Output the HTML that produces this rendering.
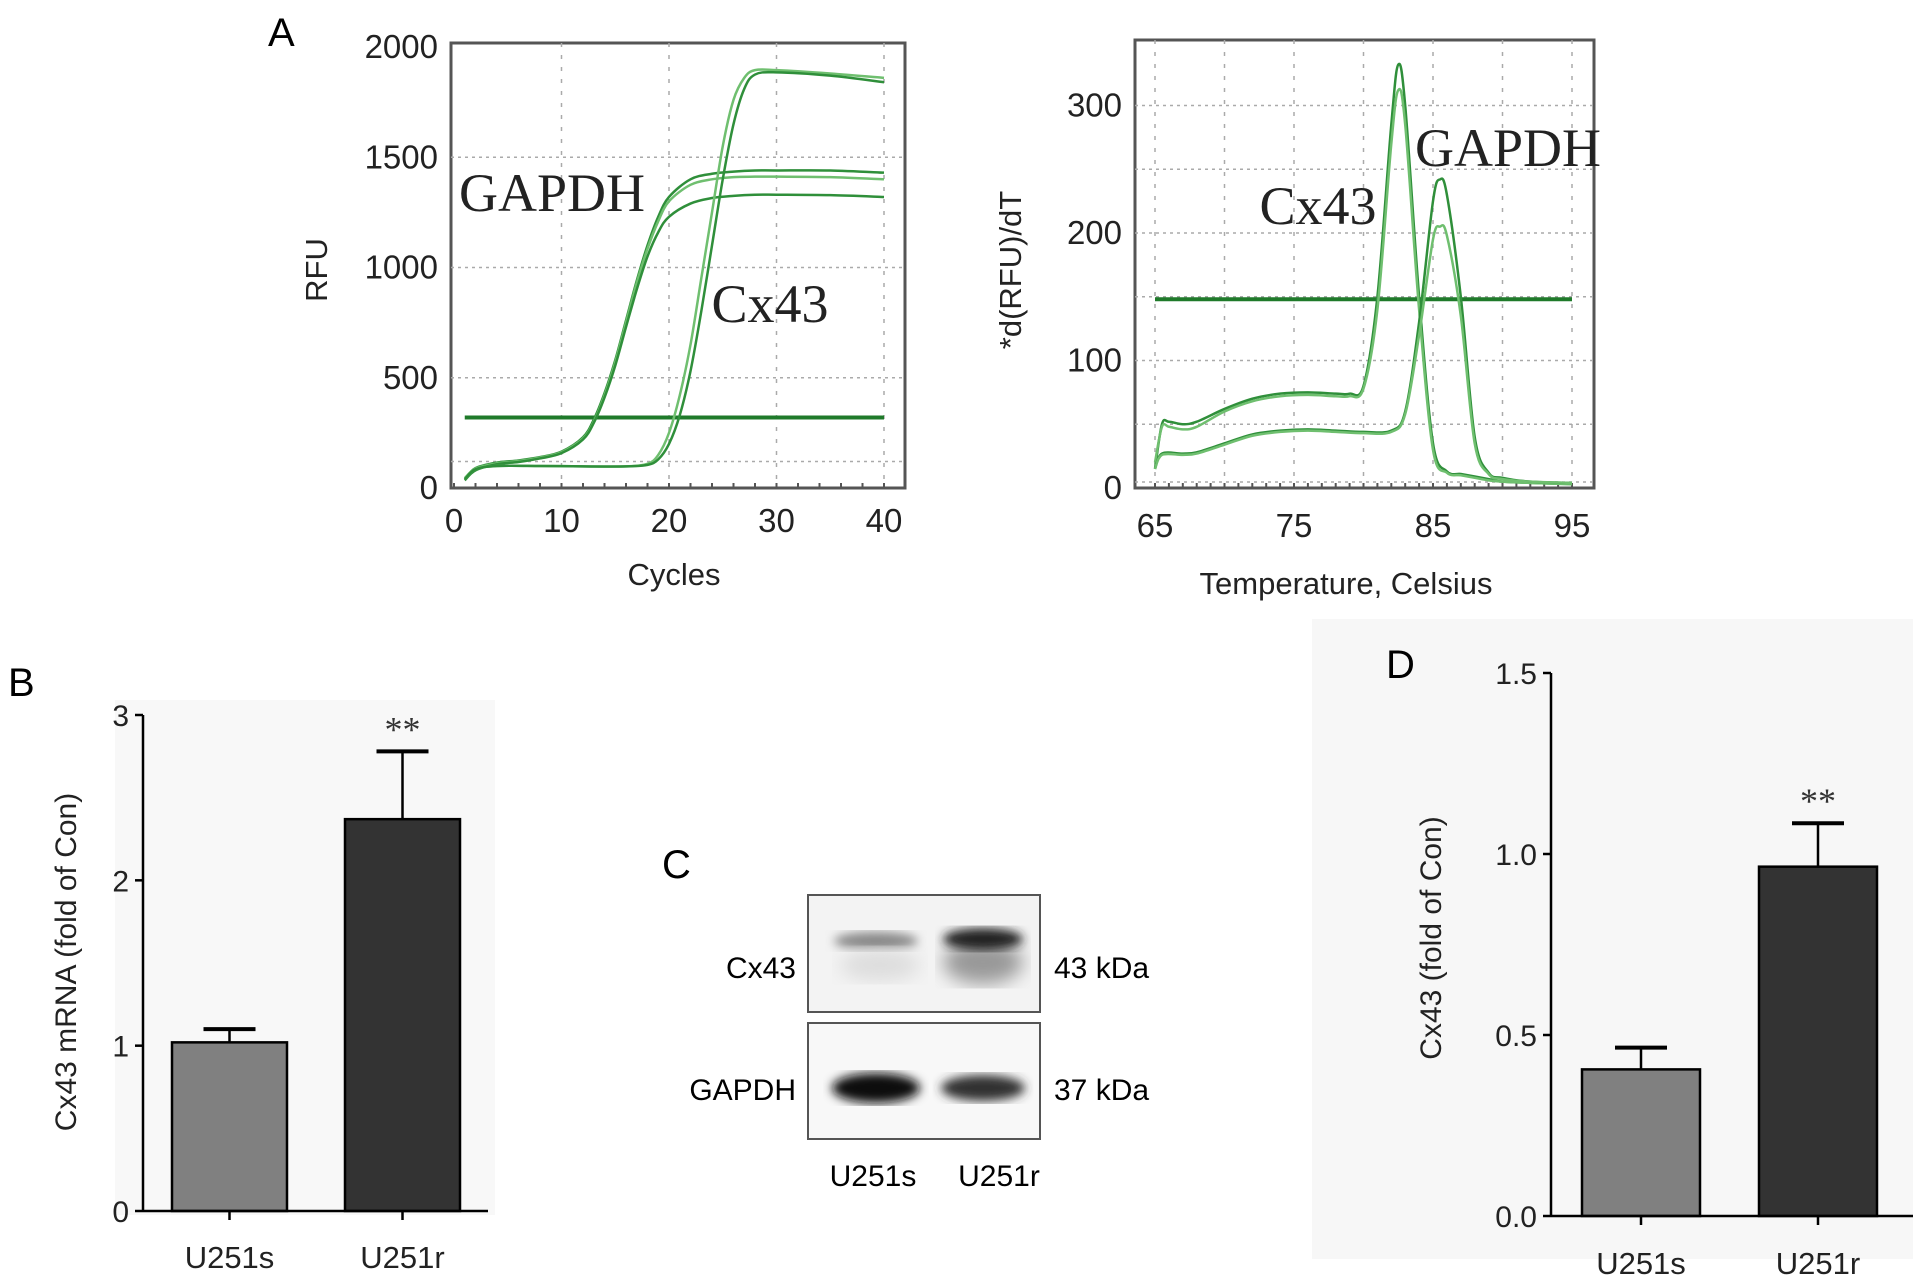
<!DOCTYPE html>
<html><head><meta charset="utf-8"><style>
html,body{margin:0;padding:0;background:#fff;}
svg{display:block;font-family:"Liberation Sans",sans-serif;}
</style></head><body>
<svg id="fig" width="1913" height="1283" viewBox="0 0 1913 1283" xmlns="http://www.w3.org/2000/svg">
<defs>
<filter id="blur4"><feGaussianBlur stdDeviation="5"/></filter>
<filter id="blur8"><feGaussianBlur stdDeviation="9"/></filter>
</defs>
<rect x="0" y="0" width="1913" height="1283" fill="#fff"/>
<rect x="115" y="700" width="380" height="515" fill="#f8f8f8"/>
<rect x="1312" y="619" width="601" height="640" fill="#f7f7f7"/>
<text x="268" y="46" font-size="40">A</text>
<text x="8" y="696" font-size="40">B</text>
<text x="662" y="878" font-size="40">C</text>
<text x="1386" y="678" font-size="40">D</text>
<g id="a1"></g>
<g id="a2"></g>
<g id="bchart"></g>
<g id="blot">
<rect x="808" y="895" width="232" height="117" fill="#f3f3f3" stroke="#555" stroke-width="2"/>
<rect x="808" y="1023" width="232" height="116" fill="#f8f8f8" stroke="#555" stroke-width="2"/>
<ellipse cx="876" cy="941" rx="42" ry="9" fill="#888" filter="url(#blur4)"/>
<ellipse cx="880" cy="965" rx="40" ry="16" fill="#ddd" filter="url(#blur8)"/>
<ellipse cx="983" cy="962" rx="40" ry="22" fill="#999" filter="url(#blur8)"/>
<ellipse cx="983" cy="939" rx="40" ry="11" fill="#222" filter="url(#blur4)"/>
<ellipse cx="876" cy="1088" rx="44" ry="15" fill="#111" filter="url(#blur4)"/>
<ellipse cx="983" cy="1088" rx="42" ry="13" fill="#333" filter="url(#blur4)"/>
<text x="796" y="978" font-size="30" text-anchor="end">Cx43</text>
<text x="796" y="1100" font-size="30" text-anchor="end">GAPDH</text>
<text x="1054" y="978" font-size="30">43 kDa</text>
<text x="1054" y="1100" font-size="30">37 kDa</text>
<text x="873" y="1186" font-size="30" text-anchor="middle">U251s</text>
<text x="999" y="1186" font-size="30" text-anchor="middle">U251r</text>
</g>
<g id="dchart"></g>
</svg>
<script>
// ---- Panel A1 data ----
const ampCyclesG = [1,2,4,6,8,10,12,13,14,15,16,17,18,19,20,22,24,26,28,30,35,40];
const ampG1 = [40,90,115,125,140,165,230,310,430,580,760,940,1100,1230,1320,1400,1425,1435,1440,1440,1440,1430];
const ampG2 = [45,88,112,122,138,162,225,300,420,570,750,930,1085,1210,1300,1375,1400,1410,1412,1412,1410,1400];
const ampG3 = [35,80,108,118,134,158,220,295,410,555,730,900,1050,1160,1230,1290,1315,1325,1330,1330,1328,1320];
const ampCyclesC = [1,2,4,8,12,16,18,19,20,21,22,23,24,25,26,27,28,30,35,40];
const ampC1 = [40,85,100,100,98,98,110,150,250,420,650,950,1250,1550,1760,1860,1895,1895,1880,1860];
const ampC2 = [40,85,100,100,98,98,105,130,200,330,530,800,1100,1400,1650,1810,1875,1885,1870,1840];
const ampThreshold = 320;
const ampXTicks = [0,10,20,30,40];
const ampYTicks = [0,500,1000,1500,2000];
// ---- Panel A2 data ----
const meltTempsC = [65,65.5,66,67,68,70,72,74,76,78,79,80,81,82,82.5,83,84,85,86,87,88,89,90,92,95];
const meltC1 = [15,50,52,50,52,62,70,74,75,74,74,80,150,285,332,300,150,35,13,11,9,7,5,4,3];
const meltC2 = [20,48,48,46,48,60,68,72,73,72,72,78,140,270,312,285,140,30,12,10,8,6,5,4,3];
const meltTempsG = [65,65.5,67,68,70,72,74,76,78,80,82,83,84,85,85.5,86,87,88,89,90,92,95];
const meltG1 = [15,27,27,28,35,42,45,46,45,44,45,60,130,225,242,230,150,40,12,8,5,4];
const meltG2 = [15,26,26,27,34,41,44,45,44,43,44,58,120,195,205,198,135,35,11,7,5,4];
const meltThreshold = 148;
const meltXTicks = [65,75,85,95];
const meltYTicks = [0,100,200,300];
// ---- Panel B data ----
const bCats = ["U251s","U251r"];
const bVals = [1.02,2.37];
const bErr = [0.08,0.41];
const bYTicks = [0,1,2,3];
// ---- Panel D data ----
const dCats = ["U251s","U251r"];
const dVals = [0.405,0.965];
const dErr = [0.06,0.12];
const dYTicks = ["0.0","0.5","1.0","1.5"];

const NS="http://www.w3.org/2000/svg";
function mk(parent,tag,attrs,text){const e=document.createElementNS(NS,tag);for(const k in attrs)e.setAttribute(k,attrs[k]);if(text!==undefined)e.textContent=text;parent.appendChild(e);return e;}
function smooth(pts){let d="M"+pts[0][0]+","+pts[0][1];for(let i=0;i<pts.length-1;i++){const p0=pts[Math.max(0,i-1)],p1=pts[i],p2=pts[i+1],p3=pts[Math.min(pts.length-1,i+2)];const c1x=p1[0]+(p2[0]-p0[0])/6,c1y=p1[1]+(p2[1]-p0[1])/6,c2x=p2[0]-(p3[0]-p1[0])/6,c2y=p2[1]-(p3[1]-p1[1])/6;d+=` C${c1x},${c1y} ${c2x},${c2y} ${p2[0]},${p2[1]}`;}return d;}

// ---- A1 ----
(function(){
const g=document.getElementById('a1');
const X=v=>454+(v/40)*430, Y=v=>488-(v/2000)*441;
const box=mk(g,'rect',{x:451,y:43,width:454,height:445,fill:'#fff',stroke:'#555','stroke-width':3});


[10,20,30,40].forEach(v=>{const l=mk(g,'line',{x1:X(v),x2:X(v),y1:43,y2:488,stroke:'#aaa','stroke-width':1.5,'stroke-dasharray':'4,8'});});
[120,500,1000,1500].forEach(v=>{const l=mk(g,'line',{x1:451,x2:905,y1:Y(v),y2:Y(v),stroke:'#aaa','stroke-width':1.5,'stroke-dasharray':'3,4'});});
for(let v=0;v<=40;v+=2){const l=mk(g,'line',{x1:X(v),x2:X(v),y1:483,y2:488,stroke:'#555','stroke-width':2});}
ampXTicks.forEach(v=>{const t=mk(g,'text',{x:X(v),y:532,'font-size':33,'text-anchor':'middle',fill:'#222'},v);});
ampYTicks.forEach(v=>{const t=mk(g,'text',{x:438,y:Y(v)+11,'font-size':33,'text-anchor':'end',fill:'#222'},v);});
const th=mk(g,'line',{x1:X(1),x2:X(40),y1:Y(ampThreshold),y2:Y(ampThreshold),stroke:'#1f7a2a','stroke-width':4});

[[ampCyclesG,ampG1],[ampCyclesG,ampG2],[ampCyclesG,ampG3],[ampCyclesC,ampC1],[ampCyclesC,ampC2]].forEach(([xs,ys],i)=>{
 const p=mk(g,'path',{d:smooth(xs.map((c,j)=>[X(c),Y(ys[j])])),fill:'none',stroke:i%2?'#6fbf6f':'#2f8f3a','stroke-width':2.5});
 });
const tl=mk(g,'text',{x:552,y:211,'font-size':54,'text-anchor':'middle','font-family':'Liberation Serif, serif',fill:'#222'},'GAPDH');
const tc=mk(g,'text',{x:770,y:322,'font-size':54,'text-anchor':'middle','font-family':'Liberation Serif, serif',fill:'#222'},'Cx43');
const xt=mk(g,'text',{x:674,y:585,'font-size':31,'text-anchor':'middle',fill:'#222'},'Cycles');
const yt=mk(g,'text',{x:0,y:0,'font-size':31,'text-anchor':'middle',fill:'#222',transform:'translate(327,270) rotate(-90)'},'RFU');
})();

// ---- A2 ----
(function(){
const g=document.getElementById('a2');
const X=v=>1155+((v-65)/30)*417, Y=v=>488-(v/100)*127.5;
const box=mk(g,'rect',{x:1135,y:40,width:459,height:448,fill:'#fff',stroke:'#555','stroke-width':3});

for(let v=65;v<=95;v+=5){const l=mk(g,'line',{x1:X(v),x2:X(v),y1:40,y2:488,stroke:'#aaa','stroke-width':1.5,'stroke-dasharray':'4,8'});}
for(let v=0;v<=300;v+=50){const l=mk(g,'line',{x1:1135,x2:1594,y1:Y(v)-(v===0?6:0),y2:Y(v)-(v===0?6:0),stroke:'#aaa','stroke-width':1.5,'stroke-dasharray':'3,4'});}
for(let v=65;v<=95;v+=1){const l=mk(g,'line',{x1:X(v),x2:X(v),y1:483,y2:488,stroke:'#555','stroke-width':2});}
meltXTicks.forEach(v=>{const t=mk(g,'text',{x:X(v),y:537,'font-size':33,'text-anchor':'middle',fill:'#222'},v);});
meltYTicks.forEach(v=>{const t=mk(g,'text',{x:1122,y:Y(v)+11,'font-size':33,'text-anchor':'end',fill:'#222'},v);});
const th=mk(g,'line',{x1:X(65),x2:X(95),y1:Y(meltThreshold),y2:Y(meltThreshold),stroke:'#1f7a2a','stroke-width':4});

[[meltTempsC,meltC1],[meltTempsC,meltC2],[meltTempsG,meltG1],[meltTempsG,meltG2]].forEach(([xs,ys],i)=>{
 const p=mk(g,'path',{d:smooth(xs.map((c,j)=>[X(c),Y(ys[j])])),fill:'none',stroke:i%2?'#6fbf6f':'#2f8f3a','stroke-width':2.5});
 });
const tl=mk(g,'text',{x:1508,y:166,'font-size':54,'text-anchor':'middle','font-family':'Liberation Serif, serif',fill:'#222'},'GAPDH');
const tc=mk(g,'text',{x:1318,y:224,'font-size':54,'text-anchor':'middle','font-family':'Liberation Serif, serif',fill:'#222'},'Cx43');
const xt=mk(g,'text',{x:1346,y:594,'font-size':31,'text-anchor':'middle',fill:'#222'},'Temperature, Celsius');
const yt=mk(g,'text',{x:0,y:0,'font-size':31,'text-anchor':'middle',fill:'#222',transform:'translate(1021,270) rotate(-90)'},'*d(RFU)/dT');
})();

// ---- Bar chart helper ----
function bars(gid,cfg,cats,vals,errs,ticks){
const g=document.getElementById(gid);
const Y=v=>cfg.y0-(v/cfg.max)*(cfg.y0-cfg.yTop);
ticks.forEach(tv=>{const v=parseFloat(tv);
 const l=mk(g,'line',{x1:cfg.ax-8,x2:cfg.ax,y1:Y(v),y2:Y(v),stroke:'#000','stroke-width':2.5});
 const t=mk(g,'text',{x:cfg.ax-14,y:Y(v)+11,'font-size':30,'text-anchor':'end',fill:'#222'},tv);});
cats.forEach((c,i)=>{
 const x=cfg.bx[i], cx=x+cfg.bw/2;
 const el=mk(g,'line',{x1:cx,x2:cx,y1:Y(vals[i]+errs[i]),y2:Y(vals[i]),stroke:'#000','stroke-width':2.5});
 const ec=mk(g,'line',{x1:cx-cfg.cap,x2:cx+cfg.cap,y1:Y(vals[i]+errs[i]),y2:Y(vals[i]+errs[i]),stroke:'#000','stroke-width':4});
 const r=mk(g,'rect',{x:x,y:Y(vals[i]),width:cfg.bw,height:cfg.y0-Y(vals[i]),fill:i?'#333':'#808080',stroke:'#000','stroke-width':2.5});
 
 const tk=mk(g,'line',{x1:cx,x2:cx,y1:cfg.y0,y2:cfg.y0+9,stroke:'#000','stroke-width':2.5});
 const t=mk(g,'text',{x:cx,y:cfg.labY,'font-size':31,'text-anchor':'middle',fill:'#222'},c);
 if(i===1){const s=mk(g,'text',{x:cx,y:Y(vals[i]+errs[i])-10,'font-size':36,'text-anchor':'middle','font-family':'Liberation Serif, serif',fill:'#333'},'**');}
});
const ya=mk(g,'line',{x1:cfg.ax,x2:cfg.ax,y1:cfg.yTop,y2:cfg.y0,stroke:'#000','stroke-width':2.5});
const xa=mk(g,'line',{x1:cfg.ax,x2:cfg.xEnd,y1:cfg.y0,y2:cfg.y0,stroke:'#000','stroke-width':2.5});
const yt=mk(g,'text',{x:0,y:0,'font-size':30,'text-anchor':'middle',fill:'#222',transform:`translate(${cfg.ylx},${cfg.yly}) rotate(-90)`},cfg.ylab);
}
bars('bchart',{ax:143,y0:1211,yTop:715,max:3,bx:[172,345],bw:115,cap:26,xEnd:488,labY:1268,ylx:76,yly:962,ylab:'Cx43 mRNA (fold of Con)'},bCats,bVals,bErr,bYTicks);
bars('dchart',{ax:1551,y0:1216,yTop:673,max:1.5,bx:[1582,1759],bw:118,cap:26,xEnd:1913,labY:1274,ylx:1441,yly:938,ylab:'Cx43 (fold of Con)'},dCats,dVals,dErr,dYTicks);
</script>
</body></html>
